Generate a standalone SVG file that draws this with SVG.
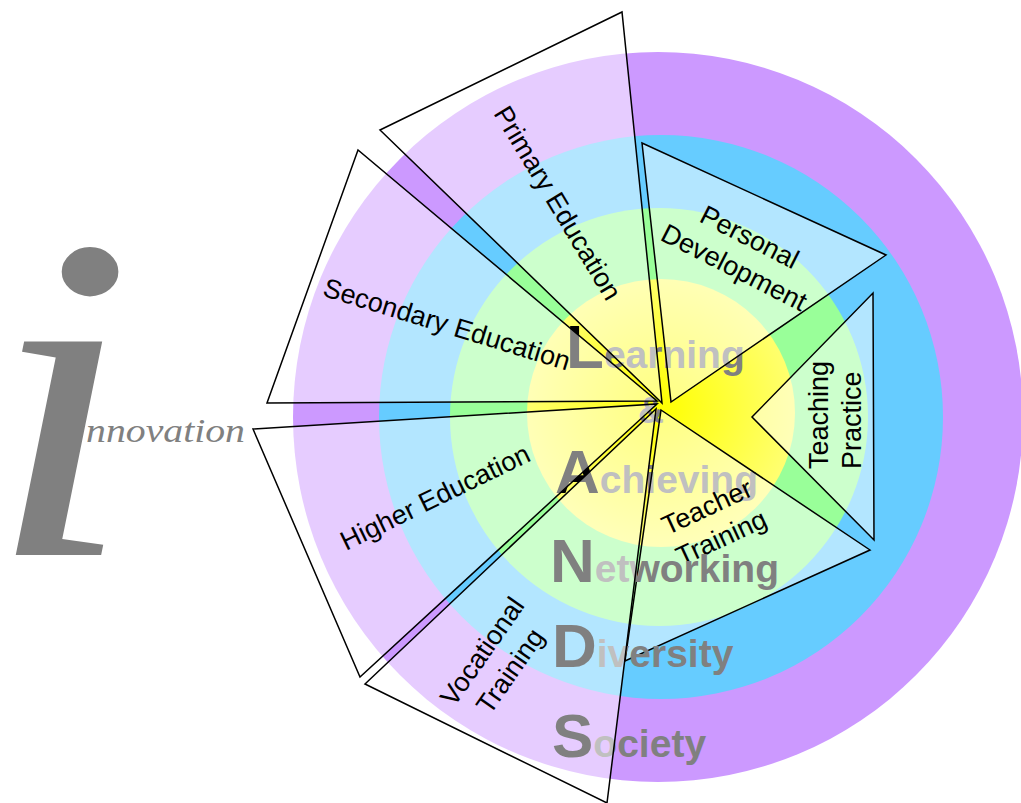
<svg xmlns="http://www.w3.org/2000/svg" width="1021" height="803" viewBox="0 0 1021 803">
<defs>
<radialGradient id="yg" gradientUnits="userSpaceOnUse" cx="660" cy="408" r="136">
<stop offset="0" stop-color="#ffff00"/>
<stop offset="1" stop-color="#ffff70"/>
</radialGradient>
</defs>
<style>
.tri{fill:#fff;fill-opacity:.5;stroke:#000;stroke-width:1.5;stroke-linejoin:miter}
.lbl{font-family:"Liberation Sans",Arial,sans-serif;font-size:27px;fill:#000;text-anchor:middle}
.big{font-family:"Liberation Sans",Arial,sans-serif;font-weight:bold;fill:#808080;font-size:39px}
.cap{fill:#000;font-size:62px}
.logo{font-family:"Liberation Serif","Times New Roman",serif;font-style:italic;fill:#808080}
</style>
<rect width="1021" height="803" fill="#fff"/>
<g id="rings">
<circle cx="658" cy="417" r="365" fill="#cc99ff"/>
<circle cx="661" cy="417" r="282" fill="#66ccff"/>
<circle cx="659" cy="417" r="209" fill="#99ff99"/>
<circle cx="661" cy="413" r="134" fill="url(#yg)"/>
</g>
<g id="logo">
<text class="logo" transform="translate(-14,555) scale(1.15,1)" font-size="465">i</text>
<text class="logo" x="86" y="442" font-size="34" textLength="159" lengthAdjust="spacingAndGlyphs">nnovation</text>
</g>
<g id="words-learning-achieving" class="big">
<text x="566" y="368"><tspan class="cap">L</tspan>earning</text>
<text x="638" y="423" font-size="36">&amp;</text>
<text x="555" y="493"><tspan class="cap">A</tspan>chieving</text>
</g>
<g id="node-teacher-training">
<polygon class="tri" points="661,410 870,550 625,661"/>
<g class="lbl" transform="translate(714,522) rotate(-25)">
<text x="0" y="-17" dy=".35em">Teacher</text>
<text x="0" y="17" dy=".35em">Training</text>
</g>
</g>
<g id="words-networking-diversity-society" class="big">
<text x="550" y="582"><tspan class="cap">N</tspan>etworking</text>
<text x="552" y="667"><tspan class="cap">D</tspan>iversity</text>
<text x="552" y="757"><tspan class="cap">S</tspan>ociety</text>
</g>
<g id="node-vocational-training">
<polygon class="tri" points="365,684 607,803 656,409"/>
<g class="lbl" transform="translate(496,661) rotate(-55)">
<text x="0" y="-17" dy=".35em">Vocational</text>
<text x="0" y="17" dy=".35em">Training</text>
</g>
</g>
<g id="node-higher-education">
<polygon class="tri" points="253,429 360,677 657,404"/>
<text class="lbl" transform="translate(435,497) rotate(-26)" dy=".35em">Higher Education</text>
</g>
<g id="node-secondary-education">
<polygon class="tri" points="358,150 267,403 657,401"/>
<text class="lbl" transform="translate(447,324) rotate(17)" dy=".35em">Secondary Education</text>
</g>
<g id="node-primary-education">
<polygon class="tri" points="380,130 622,12 662,403"/>
<text class="lbl" transform="translate(558,203) rotate(59)" dy=".35em">Primary Education</text>
</g>
<g id="node-personal-development">
<polygon class="tri" points="642,143 886,255 671,402"/>
<g class="lbl" transform="translate(742,252) rotate(27)">
<text x="0" y="-17" dy=".35em">Personal</text>
<text x="0" y="17" dy=".35em">Development</text>
</g>
</g>
<g id="node-teaching-practice">
<polygon class="tri" points="873,293 874,540 752,417"/>
<text class="lbl" style="text-anchor:start" transform="translate(828,469) rotate(-90)">Teaching</text>
<text class="lbl" style="text-anchor:start" transform="translate(861,469) rotate(-90)">Practice</text>
</g>
</svg>
